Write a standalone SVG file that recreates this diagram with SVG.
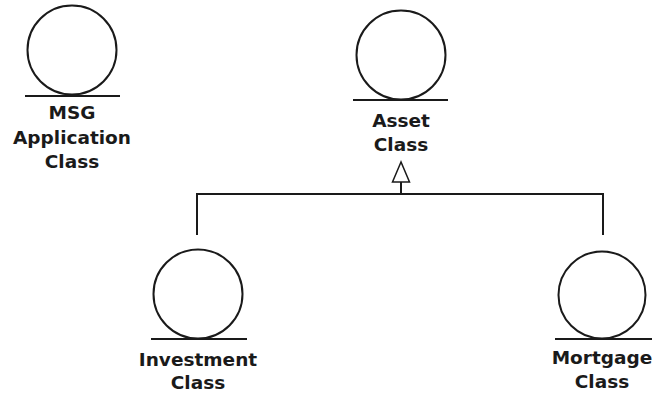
<svg xmlns="http://www.w3.org/2000/svg" width="659" height="394" viewBox="0 0 659 394">
<style>
.c{fill:none;stroke:#1a1a1a;stroke-width:2}
.b{stroke:#1a1a1a;stroke-width:2.2}
.t{font-family:"DejaVu Sans","Liberation Sans",sans-serif;font-weight:bold;font-size:18.5px;fill:#1a1a1a;text-anchor:middle}
.e{fill:none;stroke:#1a1a1a;stroke-width:2}
</style>
<rect width="659" height="394" fill="#fff"/>
<g id="connectors">
<polyline class="e" points="197,235 197,194 603,194 603,235"/>
<line class="e" x1="401" y1="194" x2="401" y2="182"/>
<polygon points="401,162 392.5,182 409.5,182" fill="#fff" stroke="#1a1a1a" stroke-width="1.5"/>
</g>
<g id="msg">
<circle class="c" cx="72" cy="50" r="44.5"/>
<line class="b" x1="25" y1="96" x2="120" y2="96"/>
<text class="t" x="72" y="119">MSG</text>
<text class="t" x="72" y="144">Application</text>
<text class="t" x="72" y="168">Class</text>
</g>
<g id="asset">
<circle class="c" cx="401" cy="55" r="44.5"/>
<line class="b" x1="353" y1="100" x2="448" y2="100"/>
<text class="t" x="401" y="127">Asset</text>
<text class="t" x="401" y="151">Class</text>
</g>
<g id="investment">
<circle class="c" cx="198" cy="294" r="44.5"/>
<line class="b" x1="151" y1="339" x2="247" y2="339"/>
<text class="t" x="198" y="366">Investment</text>
<text class="t" x="198" y="389">Class</text>
</g>
<g id="mortgage">
<circle class="c" cx="602" cy="295" r="43.5"/>
<line class="b" x1="555" y1="339" x2="652" y2="339"/>
<text class="t" x="602" y="364">Mortgage</text>
<text class="t" x="602" y="388">Class</text>
</g>
</svg>
